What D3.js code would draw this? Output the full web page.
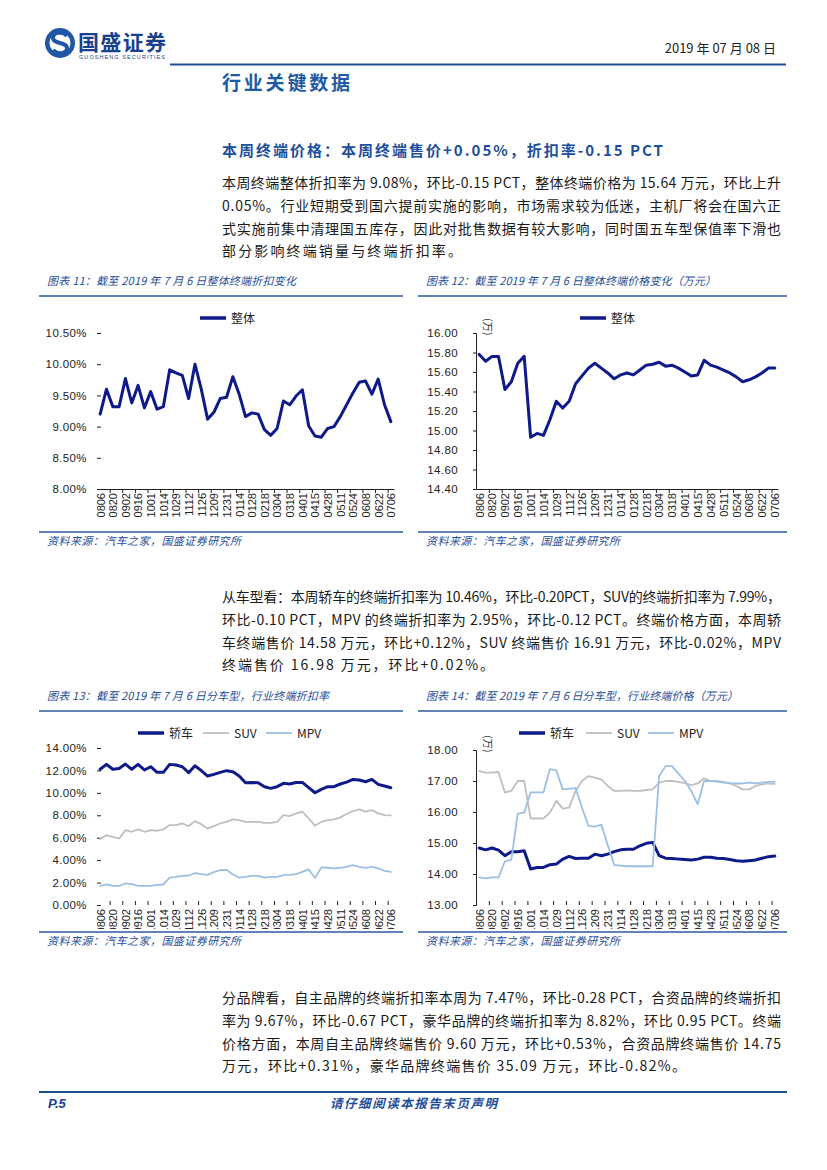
<!DOCTYPE html>
<html><head><meta charset="utf-8">
<script src="https://cdn.jsdelivr.net/npm/d3@7"></script>
<style>
body{margin:0;background:#fff;}
svg{display:block;}
text{font-family:"Noto Sans CJK SC","Liberation Sans",sans-serif;}
.num{font-family:"Liberation Sans","DejaVu Sans",sans-serif;}
</style></head><body>
<svg id="page" width="827" height="1170"></svg>
<script>
// ---------------- data ----------------
const tickLabels = ["0806","0820","0902","0916","1001","1014","1029","1112","1126","1209","1231","0114",
  "0128","0218","0304","0318","0401","0415","0428","0511","0524","0608","0622","0706"];

const overallDiscount = [9.20,9.60,9.32,9.32,9.77,9.38,9.66,9.30,9.56,9.28,9.32,9.91,9.86,9.82,9.45,10.00,
  9.60,9.12,9.23,9.45,9.47,9.80,9.52,9.16,9.22,9.20,8.95,8.86,8.97,9.41,9.35,9.49,9.59,9.01,8.85,8.83,
  8.97,9.00,9.16,9.35,9.54,9.71,9.73,9.52,9.76,9.35,9.08];

const overallPrice = [15.78,15.71,15.76,15.76,15.42,15.50,15.69,15.76,14.93,14.97,14.95,15.11,15.30,15.23,
  15.30,15.48,15.56,15.64,15.69,15.64,15.59,15.53,15.57,15.59,15.57,15.62,15.67,15.68,15.70,15.66,15.67,
  15.64,15.60,15.56,15.57,15.72,15.67,15.65,15.62,15.59,15.55,15.50,15.52,15.55,15.59,15.64,15.64];

const sedanDiscount = [12.10,12.54,12.10,12.18,12.57,12.10,12.54,12.04,12.33,11.83,11.83,12.54,12.48,12.33,
  11.80,12.42,11.98,11.50,11.65,11.83,11.98,11.89,11.50,10.90,10.93,10.90,10.55,10.40,10.55,10.85,10.79,
  10.93,10.93,10.46,10.01,10.31,10.55,10.55,10.79,10.96,11.20,11.14,10.99,11.20,10.76,10.61,10.46];
const suvDiscount = [5.88,6.23,6.08,5.93,6.68,6.53,6.74,6.53,6.68,6.62,6.74,7.13,7.13,7.27,7.04,7.48,7.21,
  6.83,7.04,7.27,7.42,7.63,7.57,7.42,7.42,7.42,7.33,7.33,7.42,8.02,7.93,8.17,8.32,7.72,7.07,7.42,7.57,
  7.63,7.81,8.11,8.38,8.52,8.32,8.46,8.17,8.02,7.99];
const mpvDiscount = [1.71,1.83,1.71,1.71,1.92,1.86,1.71,1.71,1.71,1.80,1.83,2.45,2.51,2.60,2.63,2.84,2.75,
  2.69,2.93,3.11,3.14,2.72,2.45,2.51,2.60,2.60,2.45,2.51,2.51,2.66,2.69,2.75,2.96,3.17,2.42,3.35,3.32,
  3.26,3.32,3.40,3.55,3.40,3.32,3.40,3.26,3.05,2.95];

const sedanPrice = [14.84,14.78,14.84,14.77,14.59,14.72,14.72,14.75,14.16,14.21,14.21,14.30,14.32,14.48,
  14.57,14.50,14.51,14.51,14.64,14.59,14.64,14.72,14.78,14.80,14.80,14.91,14.99,15.02,14.59,14.51,14.50,
  14.48,14.47,14.45,14.48,14.54,14.54,14.51,14.50,14.47,14.43,14.41,14.43,14.45,14.51,14.56,14.58];
const suvPrice = [17.32,17.27,17.27,17.29,16.63,16.68,17.00,17.00,15.79,15.79,15.79,15.98,16.36,16.11,16.14,
  16.68,17.00,17.16,17.11,17.05,16.84,16.68,16.68,16.70,16.68,16.68,16.71,16.73,16.95,17.00,17.00,16.97,
  16.93,16.87,16.92,17.09,17.00,17.00,16.97,16.93,16.84,16.73,16.73,16.84,16.89,16.92,16.91];
const mpvPrice = [13.89,13.86,13.89,13.89,14.41,14.46,15.95,15.98,16.63,16.63,16.63,17.38,17.34,16.73,16.75,
  16.77,16.14,15.55,15.53,15.59,14.94,14.29,14.27,14.25,14.25,14.25,14.25,14.25,17.16,17.48,17.48,17.24,
  17.00,16.68,16.25,17.00,17.00,16.98,16.95,16.92,16.92,16.92,16.95,16.92,16.95,16.97,16.98];

const discountTicks1 = [8,8.5,9,9.5,10,10.5];
const priceTicks1 = [14.4,14.6,14.8,15.0,15.2,15.4,15.6,15.8,16.0];
const discountTicks2 = [0,2,4,6,8,10,12,14];
const priceTicks2 = [13,14,15,16,17,18];

// ---------------- page ----------------
const svg = d3.select("#page");
const BLUE = "#1f4e9a", NAVY = "#0f1a8a", GRAY = "#bfbfbf", LBLUE = "#9cc0e4";

// logo
const logo = svg.append("g");
logo.append("circle").attr("cx",60).attr("cy",43).attr("r",15).attr("fill","#1f57a8");
logo.append("circle").attr("cx",60).attr("cy",43).attr("r",10.5).attr("fill","#fff");
logo.append("path").attr("d","M67,36 C63,31 53,32 53,38 C53,44 67,42 67,48 C67,54 57,55 53,50")
  .attr("fill","none").attr("stroke","#1f57a8").attr("stroke-width",4);
svg.append("text").attr("x",78).attr("y",50).attr("font-size",21).attr("font-weight",700)
  .attr("fill","#1a3f8f").attr("textLength",88).text("国盛证券");
svg.append("text").attr("class","num").attr("x",79).attr("y",59).attr("font-size",5.5)
  .attr("fill","#1a3f8f").attr("textLength",86).text("GUOSHENG SECURITIES");
svg.append("text").attr("x",776).attr("y",53).attr("font-size",13).attr("text-anchor","end")
  .attr("fill","#222").text("2019 年 07 月 08 日");
svg.append("line").attr("x1",170).attr("x2",786).attr("y1",64.5).attr("y2",64.5)
  .attr("stroke","#1f4e8f").attr("stroke-width",2.2);

svg.append("text").attr("x",222).attr("y",90).attr("font-size",19).attr("font-weight",700)
  .attr("fill","#1f5aa6").attr("textLength",128).text("行业关键数据");
svg.append("text").attr("x",222).attr("y",156).attr("font-size",15).attr("font-weight",700)
  .attr("fill","#1e4f9c").attr("textLength",441).text("本周终端价格：本周终端售价+0.05%，折扣率-0.15 PCT");

function para(lines, y0, lastW){
  lines.forEach((t,i)=>{
    const el = svg.append("text").attr("x",222).attr("y",y0+i*22.8).attr("font-size",14)
      .attr("fill","#1a1a1a").text(t);
    el.attr("textLength", i < lines.length-1 ? 559 : lastW).attr("lengthAdjust","spacing");
  });
}
para(["本周终端整体折扣率为 9.08%，环比-0.15 PCT，整体终端价格为 15.64 万元，环比上升",
      "0.05%。行业短期受到国六提前实施的影响，市场需求较为低迷，主机厂将会在国六正",
      "式实施前集中清理国五库存，因此对批售数据有较大影响，同时国五车型保值率下滑也",
      "部分影响终端销量与终端折扣率。"], 188, 240);
para(["从车型看：本周轿车的终端折扣率为 10.46%，环比-0.20PCT，SUV的终端折扣率为 7.99%，",
      "环比-0.10 PCT，MPV 的终端折扣率为 2.95%，环比-0.12 PCT。终端价格方面，本周轿",
      "车终端售价 14.58 万元，环比+0.12%，SUV 终端售价 16.91 万元，环比-0.02%，MPV",
      "终端售价 16.98 万元，环比+0.02%。"], 602, 272);
para(["分品牌看，自主品牌的终端折扣率本周为 7.47%，环比-0.28 PCT，合资品牌的终端折扣",
      "率为 9.67%，环比-0.67 PCT，豪华品牌的终端折扣率为 8.82%，环比 0.95 PCT。终端",
      "价格方面，本周自主品牌终端售价 9.60 万元，环比+0.53%，合资品牌终端售价 14.75",
      "万元，环比+0.31%，豪华品牌终端售价 35.09 万元，环比-0.82%。"], 1003, 464);

function frame(x1,x2,title,titleW,yT,yS){
  svg.append("text").attr("x",x1+8).attr("y",yT).attr("font-size",11).attr("font-style","italic")
    .attr("fill",BLUE).attr("textLength",titleW).text(title);
  svg.append("line").attr("x1",x1).attr("x2",x2).attr("y1",yT+11).attr("y2",yT+11)
    .attr("stroke","#2c5a9c").attr("stroke-width",1.5);
  svg.append("line").attr("x1",x1).attr("x2",x2).attr("y1",yS).attr("y2",yS)
    .attr("stroke","#2c5a9c").attr("stroke-width",1.5);
  svg.append("text").attr("x",x1+8).attr("y",yS+13).attr("font-size",11).attr("font-style","italic")
    .attr("fill",BLUE).attr("textLength",194).text("资料来源：汽车之家，国盛证券研究所");
}
frame(39,403,"图表 11：截至 2019 年 7 月 6 日整体终端折扣变化",249,285,532);
frame(418,787,"图表 12：截至 2019 年 7 月 6 日整体终端价格变化（万元）",290,285,532);
frame(39,403,"图表 13：截至 2019 年 7 月 6 日分车型，行业终端折扣率",282,700,932);
frame(418,787,"图表 14：截至 2019 年 7 月 6 日分车型，行业终端价格（万元）",312,700,932);

svg.append("line").attr("x1",39).attr("x2",787).attr("y1",1092).attr("y2",1092)
  .attr("stroke","#1f4e8f").attr("stroke-width",2);
svg.append("text").attr("class","num").attr("x",48).attr("y",1108).attr("font-size",13)
  .attr("font-weight",700).attr("font-style","italic").attr("fill","#1a3f8f").text("P.5");
svg.append("text").attr("x",330).attr("y",1108).attr("font-size",12.5).attr("font-weight",700)
  .attr("font-style","italic").attr("fill","#1f4e9a").attr("textLength",167).text("请仔细阅读本报告末页声明");

// ---------------- charts ----------------
let clipId = 0;
function chart(o){
  const g = svg.append("g");
  const n = o.series[0].values.length;
  const xb = d3.scaleLinear().domain([0,n]).range([o.x0,o.x1]);
  const y = d3.scaleLinear().domain(o.domain).range([o.yB,o.yT]);

  // y axis
  const ya = g.append("g").attr("transform",`translate(${o.x0},0)`)
    .call(d3.axisLeft(y).tickValues(o.yTicks).tickFormat(o.fmt).tickSize(o.yLine?3:-4).tickPadding(o.yLine?15:10));
  ya.select(".domain").attr("stroke", o.yLine ? "#222" : "none");
  ya.selectAll(".tick line").attr("stroke","#222");
  ya.selectAll("text").attr("class","num").attr("font-size",11.5).attr("letter-spacing",0.4)
    .attr("fill","#222").attr("text-anchor","end");

  // x axis tick marks at category boundaries
  const bnd = d3.range(2,n,2);
  const xa = g.append("g").attr("transform",`translate(0,${o.yB})`)
    .call(d3.axisBottom(xb).tickValues(bnd).tickFormat("").tickSize(o.xLine?4:-4).tickSizeOuter(0));
  xa.select(".domain").attr("stroke", o.xLine ? "#222" : "none");
  xa.selectAll(".tick line").attr("stroke","#222");

  // x labels (rotated, clipped like the source)
  clipId++;
  svg.append("clipPath").attr("id","cl"+clipId).append("rect")
    .attr("x",o.x0-20).attr("y",0).attr("width",o.x1-o.x0+40).attr("height",o.clipH);
  const lab = g.append("g").attr("clip-path",`url(#cl${clipId})`).attr("transform",`translate(0,${o.yB})`)
    .call(d3.axisBottom(xb).tickValues(tickLabels.map((d,k)=>2*k+0.5))
      .tickFormat((d)=>tickLabels[(d-0.5)/2]).tickSize(0).tickPadding(0));
  lab.select(".domain").remove();
  lab.selectAll(".tick text").attr("class","num").attr("font-size",11).attr("fill","#222")
    .attr("x",0).attr("y",0).attr("dx","-4px").attr("dy","0.35em")
    .attr("text-anchor","end").attr("transform","rotate(-90)");

  // lines
  o.series.forEach(s=>{
    g.append("path").datum(s.values)
      .attr("d",d3.line().x((d,i)=>xb(i+0.5)).y(d=>y(d)))
      .attr("fill","none").attr("stroke",s.color).attr("stroke-width",s.width)
      .attr("stroke-linejoin","round").attr("stroke-linecap","round");
  });

  // legend
  o.series.forEach((s,k)=>{
    const lx = o.legendX[k];
    g.append("line").attr("x1",lx).attr("x2",lx+26).attr("y1",o.legendY).attr("y2",o.legendY)
      .attr("stroke",s.color).attr("stroke-width",s.legendW);
    g.append("text").attr("x",lx+31).attr("y",o.legendY+4.5).attr("font-size",12)
      .attr("fill","#222").text(s.name);
  });

  if(o.unit){
    g.append("text").attr("transform",`translate(${o.x0+8},${o.yT-15}) rotate(90)`)
      .attr("font-size",10.5).attr("fill","#333").text("(万)");
  }
}

const pct = d=>d3.format(".2f")(d)+"%";
const f2 = d3.format(".2f");

chart({x0:97,x1:394,yT:333,yB:489,domain:[8,10.5],yTicks:discountTicks1,fmt:pct,yLine:false,xLine:true,clipH:40,
  series:[{values:overallDiscount,color:NAVY,width:3,legendW:3.5,name:"整体"}],legendX:[200],legendY:318});
chart({x0:476,x1:778,yT:333,yB:489,domain:[14.4,16],yTicks:priceTicks1,fmt:f2,yLine:true,xLine:true,clipH:40,unit:true,
  series:[{values:overallPrice,color:NAVY,width:3,legendW:3.5,name:"整体"}],legendX:[580],legendY:318});
chart({x0:97,x1:394,yT:748,yB:905,domain:[0,14],yTicks:discountTicks2,fmt:pct,yLine:false,xLine:false,clipH:24,
  series:[{values:sedanDiscount,color:NAVY,width:3,legendW:3.5,name:"轿车"},
          {values:suvDiscount,color:GRAY,width:1.8,legendW:1.8,name:"SUV"},
          {values:mpvDiscount,color:LBLUE,width:1.8,legendW:1.8,name:"MPV"}],legendX:[138,203,266],legendY:733});
chart({x0:476,x1:778,yT:750,yB:905,domain:[13,18],yTicks:priceTicks2,fmt:f2,yLine:true,xLine:false,clipH:24,unit:true,
  series:[{values:sedanPrice,color:NAVY,width:3,legendW:3.5,name:"轿车"},
          {values:suvPrice,color:GRAY,width:1.8,legendW:1.8,name:"SUV"},
          {values:mpvPrice,color:LBLUE,width:1.8,legendW:1.8,name:"MPV"}],legendX:[519,586,648],legendY:733});
</script>
</body></html>
